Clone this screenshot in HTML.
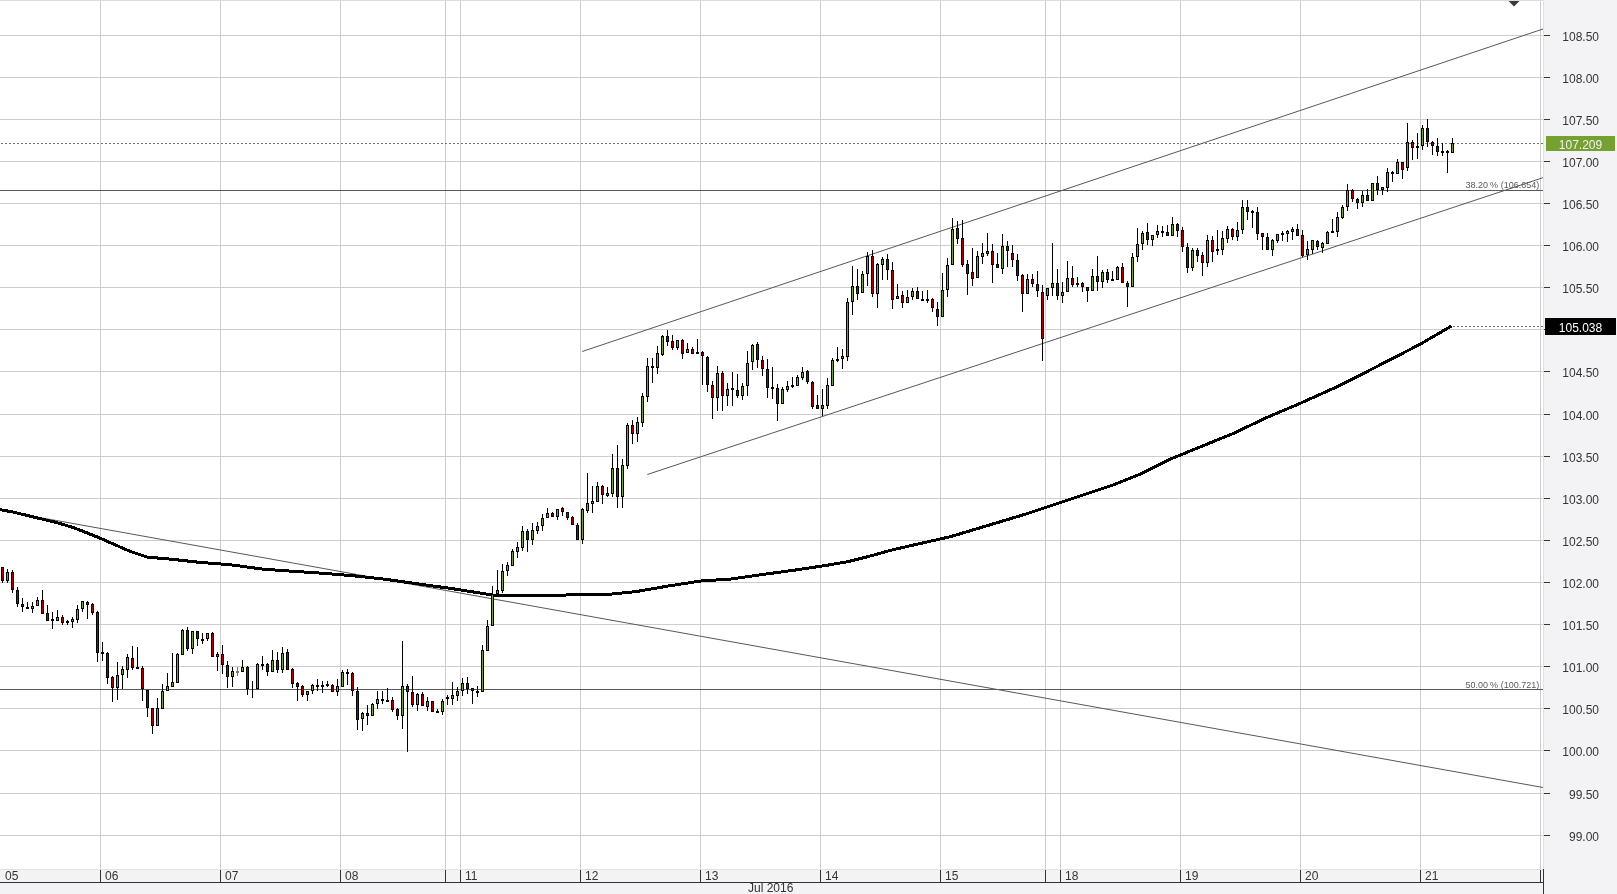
<!DOCTYPE html><html><head><meta charset="utf-8"><style>
html,body{margin:0;padding:0;background:#f3f3f5;width:1617px;height:894px;overflow:hidden}
svg{display:block;position:absolute;left:0;top:0;will-change:transform}
text{font-family:"Liberation Sans",sans-serif}
</style></head><body>
<svg width="1617" height="894" viewBox="0 0 1617 894">
<rect x="0" y="0" width="1617" height="894" fill="#f3f3f5"/>
<rect x="0" y="0" width="1543" height="869" fill="#ffffff"/>
<g shape-rendering="crispEdges">
<rect x="0" y="0" width="1543" height="1" fill="#dddddd"/>
<rect x="0" y="35" width="1543" height="1" fill="#cdcdcd"/>
<rect x="0" y="77" width="1543" height="1" fill="#cdcdcd"/>
<rect x="0" y="119" width="1543" height="1" fill="#cdcdcd"/>
<rect x="0" y="161" width="1543" height="1" fill="#cdcdcd"/>
<rect x="0" y="203" width="1543" height="1" fill="#cdcdcd"/>
<rect x="0" y="245" width="1543" height="1" fill="#cdcdcd"/>
<rect x="0" y="287" width="1543" height="1" fill="#cdcdcd"/>
<rect x="0" y="329" width="1543" height="1" fill="#cdcdcd"/>
<rect x="0" y="371" width="1543" height="1" fill="#cdcdcd"/>
<rect x="0" y="414" width="1543" height="1" fill="#cdcdcd"/>
<rect x="0" y="456" width="1543" height="1" fill="#cdcdcd"/>
<rect x="0" y="498" width="1543" height="1" fill="#cdcdcd"/>
<rect x="0" y="540" width="1543" height="1" fill="#cdcdcd"/>
<rect x="0" y="582" width="1543" height="1" fill="#cdcdcd"/>
<rect x="0" y="624" width="1543" height="1" fill="#cdcdcd"/>
<rect x="0" y="666" width="1543" height="1" fill="#cdcdcd"/>
<rect x="0" y="708" width="1543" height="1" fill="#cdcdcd"/>
<rect x="0" y="750" width="1543" height="1" fill="#cdcdcd"/>
<rect x="0" y="793" width="1543" height="1" fill="#cdcdcd"/>
<rect x="0" y="835" width="1543" height="1" fill="#cdcdcd"/>
<rect x="100" y="1" width="1" height="868" fill="#cdcdcd"/>
<rect x="220" y="1" width="1" height="868" fill="#cdcdcd"/>
<rect x="340" y="1" width="1" height="868" fill="#cdcdcd"/>
<rect x="445" y="1" width="1" height="868" fill="#cdcdcd"/>
<rect x="460" y="1" width="1" height="868" fill="#cdcdcd"/>
<rect x="580" y="1" width="1" height="868" fill="#cdcdcd"/>
<rect x="700" y="1" width="1" height="868" fill="#cdcdcd"/>
<rect x="820" y="1" width="1" height="868" fill="#cdcdcd"/>
<rect x="940" y="1" width="1" height="868" fill="#cdcdcd"/>
<rect x="1045" y="1" width="1" height="868" fill="#cdcdcd"/>
<rect x="1060" y="1" width="1" height="868" fill="#cdcdcd"/>
<rect x="1180" y="1" width="1" height="868" fill="#cdcdcd"/>
<rect x="1300" y="1" width="1" height="868" fill="#cdcdcd"/>
<rect x="1420" y="1" width="1" height="868" fill="#cdcdcd"/>
<rect x="1540" y="1" width="1" height="868" fill="#cdcdcd"/>
<rect x="1543" y="0" width="1" height="869" fill="#e2e2e2"/>
<rect x="0" y="869" width="1543" height="1" fill="#e2e2e2"/>
<rect x="0" y="870" width="1543" height="12" fill="#f3f3f5"/>
<rect x="0" y="882" width="1544" height="1" fill="#333333"/>
<rect x="1543" y="869" width="1" height="25" fill="#333333"/>
<rect x="100" y="870" width="1" height="12" fill="#333333"/>
<rect x="220" y="870" width="1" height="12" fill="#333333"/>
<rect x="340" y="870" width="1" height="12" fill="#333333"/>
<rect x="445" y="870" width="1" height="12" fill="#333333"/>
<rect x="460" y="870" width="1" height="12" fill="#333333"/>
<rect x="580" y="870" width="1" height="12" fill="#333333"/>
<rect x="700" y="870" width="1" height="12" fill="#333333"/>
<rect x="820" y="870" width="1" height="12" fill="#333333"/>
<rect x="940" y="870" width="1" height="12" fill="#333333"/>
<rect x="1045" y="870" width="1" height="12" fill="#333333"/>
<rect x="1060" y="870" width="1" height="12" fill="#333333"/>
<rect x="1180" y="870" width="1" height="12" fill="#333333"/>
<rect x="1300" y="870" width="1" height="12" fill="#333333"/>
<rect x="1420" y="870" width="1" height="12" fill="#333333"/>
<rect x="1540" y="870" width="1" height="12" fill="#333333"/>
<rect x="1544" y="35" width="6" height="1" fill="#333333"/>
<rect x="1544" y="77" width="6" height="1" fill="#333333"/>
<rect x="1544" y="119" width="6" height="1" fill="#333333"/>
<rect x="1544" y="161" width="6" height="1" fill="#333333"/>
<rect x="1544" y="203" width="6" height="1" fill="#333333"/>
<rect x="1544" y="245" width="6" height="1" fill="#333333"/>
<rect x="1544" y="287" width="6" height="1" fill="#333333"/>
<rect x="1544" y="329" width="6" height="1" fill="#333333"/>
<rect x="1544" y="371" width="6" height="1" fill="#333333"/>
<rect x="1544" y="414" width="6" height="1" fill="#333333"/>
<rect x="1544" y="456" width="6" height="1" fill="#333333"/>
<rect x="1544" y="498" width="6" height="1" fill="#333333"/>
<rect x="1544" y="540" width="6" height="1" fill="#333333"/>
<rect x="1544" y="582" width="6" height="1" fill="#333333"/>
<rect x="1544" y="624" width="6" height="1" fill="#333333"/>
<rect x="1544" y="666" width="6" height="1" fill="#333333"/>
<rect x="1544" y="708" width="6" height="1" fill="#333333"/>
<rect x="1544" y="750" width="6" height="1" fill="#333333"/>
<rect x="1544" y="793" width="6" height="1" fill="#333333"/>
<rect x="1544" y="835" width="6" height="1" fill="#333333"/>
</g>
<g font-size="12" fill="#333333">
<text x="1599" y="41" text-anchor="end">108.50</text>
<text x="1599" y="83" text-anchor="end">108.00</text>
<text x="1599" y="125" text-anchor="end">107.50</text>
<text x="1599" y="167" text-anchor="end">107.00</text>
<text x="1599" y="209" text-anchor="end">106.50</text>
<text x="1599" y="251" text-anchor="end">106.00</text>
<text x="1599" y="293" text-anchor="end">105.50</text>
<text x="1599" y="335" text-anchor="end">105.00</text>
<text x="1599" y="377" text-anchor="end">104.50</text>
<text x="1599" y="420" text-anchor="end">104.00</text>
<text x="1599" y="462" text-anchor="end">103.50</text>
<text x="1599" y="504" text-anchor="end">103.00</text>
<text x="1599" y="546" text-anchor="end">102.50</text>
<text x="1599" y="588" text-anchor="end">102.00</text>
<text x="1599" y="630" text-anchor="end">101.50</text>
<text x="1599" y="672" text-anchor="end">101.00</text>
<text x="1599" y="714" text-anchor="end">100.50</text>
<text x="1599" y="756" text-anchor="end">100.00</text>
<text x="1599" y="799" text-anchor="end">99.50</text>
<text x="1599" y="841" text-anchor="end">99.00</text>
</g>
<g font-size="12" fill="#333333">
<text x="5" y="880">05</text>
<text x="105" y="880">06</text>
<text x="225" y="880">07</text>
<text x="345" y="880">08</text>
<text x="465" y="880">11</text>
<text x="585" y="880">12</text>
<text x="705" y="880">13</text>
<text x="825" y="880">14</text>
<text x="945" y="880">15</text>
<text x="1065" y="880">18</text>
<text x="1185" y="880">19</text>
<text x="1305" y="880">20</text>
<text x="1425" y="880">21</text>
<text x="748" y="892">Jul 2016</text>
</g>
<g shape-rendering="crispEdges">
<line x1="1" y1="143.5" x2="1543" y2="143.5" stroke="#707070" stroke-width="1" stroke-dasharray="2 2"/>
<line x1="1453" y1="326.5" x2="1543" y2="326.5" stroke="#707070" stroke-width="1" stroke-dasharray="2 2"/>
<rect x="0" y="190" width="1543" height="1" fill="#5a5a5a"/>
<rect x="0" y="689" width="1543" height="1" fill="#5a5a5a"/>
</g>
<g font-size="9" fill="#5a5a5a">
<text x="1465.6" y="188">38.20</text><text x="1490" y="188">%</text><text x="1539.2" y="188" text-anchor="end">(106.654)</text>
<text x="1465.6" y="688">50.00</text><text x="1490" y="688">%</text><text x="1539.2" y="688" text-anchor="end">(100.721)</text>
</g>
<g stroke="#585858" stroke-width="1" fill="none">
<line x1="582.2" y1="351.5" x2="1543" y2="29"/>
<line x1="647.3" y1="474.5" x2="1543" y2="177.7"/>
<line x1="0" y1="510.4" x2="1543" y2="787.5"/>
</g>
<polyline fill="none" shape-rendering="crispEdges" stroke="#000000" stroke-width="3" stroke-linejoin="round" points="0.0,509.6 14.8,512.4 37.1,517.9 55.7,522.3 74.2,527.8 99.0,537.7 129.9,551.3 147.2,557.1 173.2,559.4 200.0,562.4 230.9,564.8 261.8,569.0 292.8,571.3 323.7,573.3 354.6,575.9 385.5,579.3 416.5,583.7 450.0,588.3 480.9,593.2 493.3,595.3 552.0,595.3 612.3,594.0 635.5,591.7 666.5,586.3 700.0,581.1 730.9,579.0 761.8,574.6 792.8,570.4 823.7,565.8 846.9,561.9 870.0,556.1 893.3,549.6 924.2,542.6 950.0,536.8 988.0,525.4 1026.0,514.0 1054.6,504.5 1083.1,495.0 1111.6,485.5 1140.1,474.1 1168.6,459.8 1200.0,447.0 1233.6,433.3 1267.1,417.4 1300.7,403.1 1334.2,388.0 1367.8,371.2 1401.3,354.0 1419.8,344.4 1451.7,325.9"/>
<g shape-rendering="crispEdges">
<rect x="2" y="567" width="1" height="16" fill="#000000"/>
<rect x="1" y="567" width="3" height="14" fill="#000000"/>
<rect x="2" y="568" width="1" height="12" fill="#a80000"/>
<rect x="7" y="569" width="1" height="14" fill="#000000"/>
<rect x="6" y="572" width="3" height="9" fill="#000000"/>
<rect x="7" y="573" width="1" height="7" fill="#78a02a"/>
<rect x="12" y="570" width="1" height="23" fill="#000000"/>
<rect x="11" y="572" width="3" height="18" fill="#000000"/>
<rect x="12" y="573" width="1" height="16" fill="#a80000"/>
<rect x="17" y="587" width="1" height="20" fill="#000000"/>
<rect x="16" y="590" width="3" height="14" fill="#000000"/>
<rect x="17" y="591" width="1" height="12" fill="#a80000"/>
<rect x="22" y="598" width="1" height="14" fill="#000000"/>
<rect x="21" y="604" width="3" height="3" fill="#000000"/>
<rect x="22" y="605" width="1" height="1" fill="#a80000"/>
<rect x="27" y="602" width="1" height="7" fill="#000000"/>
<rect x="26" y="607" width="3" height="2" fill="#000000"/>
<rect x="32" y="602" width="1" height="11" fill="#000000"/>
<rect x="31" y="606" width="3" height="3" fill="#000000"/>
<rect x="32" y="607" width="1" height="1" fill="#78a02a"/>
<rect x="37" y="597" width="1" height="9" fill="#000000"/>
<rect x="36" y="600" width="3" height="6" fill="#000000"/>
<rect x="37" y="601" width="1" height="4" fill="#78a02a"/>
<rect x="42" y="590" width="1" height="24" fill="#000000"/>
<rect x="41" y="600" width="3" height="14" fill="#000000"/>
<rect x="42" y="601" width="1" height="12" fill="#a80000"/>
<rect x="47" y="605" width="1" height="16" fill="#000000"/>
<rect x="46" y="613" width="3" height="8" fill="#000000"/>
<rect x="47" y="614" width="1" height="6" fill="#a80000"/>
<rect x="52" y="612" width="1" height="17" fill="#000000"/>
<rect x="51" y="619" width="3" height="2" fill="#000000"/>
<rect x="57" y="610" width="1" height="11" fill="#000000"/>
<rect x="56" y="617" width="3" height="4" fill="#000000"/>
<rect x="57" y="618" width="1" height="2" fill="#78a02a"/>
<rect x="62" y="615" width="1" height="10" fill="#000000"/>
<rect x="61" y="617" width="3" height="6" fill="#000000"/>
<rect x="62" y="618" width="1" height="4" fill="#a80000"/>
<rect x="67" y="620" width="1" height="5" fill="#000000"/>
<rect x="66" y="621" width="3" height="2" fill="#000000"/>
<rect x="72" y="617" width="1" height="11" fill="#000000"/>
<rect x="71" y="619" width="3" height="3" fill="#000000"/>
<rect x="72" y="620" width="1" height="1" fill="#78a02a"/>
<rect x="77" y="605" width="1" height="18" fill="#000000"/>
<rect x="76" y="609" width="3" height="11" fill="#000000"/>
<rect x="77" y="610" width="1" height="9" fill="#78a02a"/>
<rect x="82" y="601" width="1" height="11" fill="#000000"/>
<rect x="81" y="601" width="3" height="8" fill="#000000"/>
<rect x="82" y="602" width="1" height="6" fill="#78a02a"/>
<rect x="87" y="601" width="1" height="18" fill="#000000"/>
<rect x="86" y="602" width="3" height="3" fill="#000000"/>
<rect x="87" y="603" width="1" height="1" fill="#a80000"/>
<rect x="92" y="603" width="1" height="12" fill="#000000"/>
<rect x="91" y="604" width="3" height="9" fill="#000000"/>
<rect x="92" y="605" width="1" height="7" fill="#a80000"/>
<rect x="97" y="611" width="1" height="51" fill="#000000"/>
<rect x="96" y="612" width="3" height="41" fill="#000000"/>
<rect x="97" y="613" width="1" height="39" fill="#a80000"/>
<rect x="102" y="642" width="1" height="19" fill="#000000"/>
<rect x="101" y="652" width="3" height="2" fill="#000000"/>
<rect x="107" y="652" width="1" height="32" fill="#000000"/>
<rect x="106" y="653" width="3" height="25" fill="#000000"/>
<rect x="107" y="654" width="1" height="23" fill="#a80000"/>
<rect x="112" y="676" width="1" height="26" fill="#000000"/>
<rect x="111" y="677" width="3" height="11" fill="#000000"/>
<rect x="112" y="678" width="1" height="9" fill="#a80000"/>
<rect x="117" y="662" width="1" height="38" fill="#000000"/>
<rect x="116" y="675" width="3" height="13" fill="#000000"/>
<rect x="117" y="676" width="1" height="11" fill="#78a02a"/>
<rect x="122" y="666" width="1" height="23" fill="#000000"/>
<rect x="121" y="669" width="3" height="6" fill="#000000"/>
<rect x="122" y="670" width="1" height="4" fill="#78a02a"/>
<rect x="127" y="654" width="1" height="24" fill="#000000"/>
<rect x="126" y="657" width="3" height="13" fill="#000000"/>
<rect x="127" y="658" width="1" height="11" fill="#78a02a"/>
<rect x="132" y="646" width="1" height="24" fill="#000000"/>
<rect x="131" y="658" width="3" height="10" fill="#000000"/>
<rect x="132" y="659" width="1" height="8" fill="#a80000"/>
<rect x="137" y="647" width="1" height="21" fill="#000000"/>
<rect x="136" y="667" width="3" height="2" fill="#000000"/>
<rect x="142" y="666" width="1" height="35" fill="#000000"/>
<rect x="141" y="668" width="3" height="21" fill="#000000"/>
<rect x="142" y="669" width="1" height="19" fill="#a80000"/>
<rect x="147" y="690" width="1" height="27" fill="#000000"/>
<rect x="146" y="690" width="3" height="18" fill="#000000"/>
<rect x="147" y="691" width="1" height="16" fill="#a80000"/>
<rect x="152" y="708" width="1" height="26" fill="#000000"/>
<rect x="151" y="708" width="3" height="18" fill="#000000"/>
<rect x="152" y="709" width="1" height="16" fill="#a80000"/>
<rect x="157" y="698" width="1" height="28" fill="#000000"/>
<rect x="156" y="708" width="3" height="18" fill="#000000"/>
<rect x="157" y="709" width="1" height="16" fill="#78a02a"/>
<rect x="162" y="684" width="1" height="25" fill="#000000"/>
<rect x="161" y="691" width="3" height="18" fill="#000000"/>
<rect x="162" y="692" width="1" height="16" fill="#78a02a"/>
<rect x="167" y="673" width="1" height="18" fill="#000000"/>
<rect x="166" y="686" width="3" height="5" fill="#000000"/>
<rect x="167" y="687" width="1" height="3" fill="#78a02a"/>
<rect x="172" y="653" width="1" height="34" fill="#000000"/>
<rect x="171" y="682" width="3" height="5" fill="#000000"/>
<rect x="172" y="683" width="1" height="3" fill="#78a02a"/>
<rect x="177" y="653" width="1" height="30" fill="#000000"/>
<rect x="176" y="654" width="3" height="29" fill="#000000"/>
<rect x="177" y="655" width="1" height="27" fill="#78a02a"/>
<rect x="182" y="629" width="1" height="26" fill="#000000"/>
<rect x="181" y="630" width="3" height="25" fill="#000000"/>
<rect x="182" y="631" width="1" height="23" fill="#78a02a"/>
<rect x="187" y="627" width="1" height="24" fill="#000000"/>
<rect x="186" y="630" width="3" height="19" fill="#000000"/>
<rect x="187" y="631" width="1" height="17" fill="#a80000"/>
<rect x="192" y="631" width="1" height="23" fill="#000000"/>
<rect x="191" y="631" width="3" height="18" fill="#000000"/>
<rect x="192" y="632" width="1" height="16" fill="#78a02a"/>
<rect x="197" y="631" width="1" height="15" fill="#000000"/>
<rect x="196" y="631" width="3" height="8" fill="#000000"/>
<rect x="197" y="632" width="1" height="6" fill="#a80000"/>
<rect x="202" y="633" width="1" height="11" fill="#000000"/>
<rect x="201" y="639" width="3" height="2" fill="#000000"/>
<rect x="207" y="633" width="1" height="8" fill="#000000"/>
<rect x="206" y="633" width="3" height="6" fill="#000000"/>
<rect x="207" y="634" width="1" height="4" fill="#78a02a"/>
<rect x="212" y="632" width="1" height="25" fill="#000000"/>
<rect x="211" y="633" width="3" height="24" fill="#000000"/>
<rect x="212" y="634" width="1" height="22" fill="#a80000"/>
<rect x="217" y="652" width="1" height="19" fill="#000000"/>
<rect x="216" y="654" width="3" height="3" fill="#000000"/>
<rect x="217" y="655" width="1" height="1" fill="#78a02a"/>
<rect x="222" y="645" width="1" height="29" fill="#000000"/>
<rect x="221" y="654" width="3" height="11" fill="#000000"/>
<rect x="222" y="655" width="1" height="9" fill="#a80000"/>
<rect x="227" y="661" width="1" height="27" fill="#000000"/>
<rect x="226" y="665" width="3" height="12" fill="#000000"/>
<rect x="227" y="666" width="1" height="10" fill="#a80000"/>
<rect x="232" y="667" width="1" height="20" fill="#000000"/>
<rect x="231" y="671" width="3" height="6" fill="#000000"/>
<rect x="232" y="672" width="1" height="4" fill="#78a02a"/>
<rect x="237" y="667" width="1" height="9" fill="#777777"/>
<rect x="236" y="671" width="3" height="2" fill="#777777"/>
<rect x="242" y="660" width="1" height="12" fill="#000000"/>
<rect x="241" y="667" width="3" height="5" fill="#000000"/>
<rect x="242" y="668" width="1" height="3" fill="#78a02a"/>
<rect x="247" y="666" width="1" height="29" fill="#000000"/>
<rect x="246" y="667" width="3" height="22" fill="#000000"/>
<rect x="247" y="668" width="1" height="20" fill="#a80000"/>
<rect x="252" y="681" width="1" height="17" fill="#000000"/>
<rect x="257" y="663" width="1" height="26" fill="#000000"/>
<rect x="256" y="664" width="3" height="25" fill="#000000"/>
<rect x="257" y="665" width="1" height="23" fill="#78a02a"/>
<rect x="262" y="656" width="1" height="14" fill="#000000"/>
<rect x="261" y="664" width="3" height="2" fill="#000000"/>
<rect x="267" y="663" width="1" height="13" fill="#000000"/>
<rect x="266" y="664" width="3" height="8" fill="#000000"/>
<rect x="267" y="665" width="1" height="6" fill="#a80000"/>
<rect x="272" y="650" width="1" height="22" fill="#000000"/>
<rect x="271" y="660" width="3" height="12" fill="#000000"/>
<rect x="272" y="661" width="1" height="10" fill="#78a02a"/>
<rect x="277" y="652" width="1" height="21" fill="#000000"/>
<rect x="276" y="660" width="3" height="10" fill="#000000"/>
<rect x="277" y="661" width="1" height="8" fill="#a80000"/>
<rect x="282" y="647" width="1" height="26" fill="#000000"/>
<rect x="281" y="653" width="3" height="17" fill="#000000"/>
<rect x="282" y="654" width="1" height="15" fill="#78a02a"/>
<rect x="287" y="649" width="1" height="21" fill="#000000"/>
<rect x="286" y="652" width="3" height="18" fill="#000000"/>
<rect x="287" y="653" width="1" height="16" fill="#a80000"/>
<rect x="292" y="668" width="1" height="20" fill="#000000"/>
<rect x="291" y="669" width="3" height="15" fill="#000000"/>
<rect x="292" y="670" width="1" height="13" fill="#a80000"/>
<rect x="297" y="682" width="1" height="19" fill="#000000"/>
<rect x="296" y="683" width="3" height="4" fill="#000000"/>
<rect x="297" y="684" width="1" height="2" fill="#a80000"/>
<rect x="302" y="685" width="1" height="12" fill="#000000"/>
<rect x="301" y="686" width="3" height="9" fill="#000000"/>
<rect x="302" y="687" width="1" height="7" fill="#a80000"/>
<rect x="307" y="691" width="1" height="10" fill="#000000"/>
<rect x="306" y="691" width="3" height="4" fill="#000000"/>
<rect x="307" y="692" width="1" height="2" fill="#78a02a"/>
<rect x="312" y="684" width="1" height="10" fill="#000000"/>
<rect x="311" y="685" width="3" height="6" fill="#000000"/>
<rect x="312" y="686" width="1" height="4" fill="#78a02a"/>
<rect x="317" y="679" width="1" height="12" fill="#000000"/>
<rect x="316" y="685" width="3" height="2" fill="#000000"/>
<rect x="322" y="681" width="1" height="12" fill="#000000"/>
<rect x="321" y="685" width="3" height="2" fill="#000000"/>
<rect x="327" y="681" width="1" height="6" fill="#000000"/>
<rect x="326" y="684" width="3" height="2" fill="#000000"/>
<rect x="332" y="684" width="1" height="8" fill="#000000"/>
<rect x="331" y="685" width="3" height="7" fill="#000000"/>
<rect x="332" y="686" width="1" height="5" fill="#a80000"/>
<rect x="337" y="679" width="1" height="17" fill="#000000"/>
<rect x="336" y="686" width="3" height="6" fill="#000000"/>
<rect x="337" y="687" width="1" height="4" fill="#78a02a"/>
<rect x="342" y="670" width="1" height="17" fill="#000000"/>
<rect x="341" y="672" width="3" height="15" fill="#000000"/>
<rect x="342" y="673" width="1" height="13" fill="#78a02a"/>
<rect x="347" y="669" width="1" height="16" fill="#000000"/>
<rect x="346" y="672" width="3" height="2" fill="#000000"/>
<rect x="352" y="672" width="1" height="24" fill="#000000"/>
<rect x="351" y="673" width="3" height="18" fill="#000000"/>
<rect x="352" y="674" width="1" height="16" fill="#a80000"/>
<rect x="357" y="687" width="1" height="43" fill="#000000"/>
<rect x="356" y="691" width="3" height="29" fill="#000000"/>
<rect x="357" y="692" width="1" height="27" fill="#a80000"/>
<rect x="362" y="712" width="1" height="19" fill="#000000"/>
<rect x="361" y="713" width="3" height="6" fill="#000000"/>
<rect x="362" y="714" width="1" height="4" fill="#78a02a"/>
<rect x="367" y="705" width="1" height="20" fill="#000000"/>
<rect x="366" y="713" width="3" height="3" fill="#000000"/>
<rect x="367" y="714" width="1" height="1" fill="#a80000"/>
<rect x="372" y="703" width="1" height="13" fill="#000000"/>
<rect x="371" y="704" width="3" height="12" fill="#000000"/>
<rect x="372" y="705" width="1" height="10" fill="#78a02a"/>
<rect x="377" y="691" width="1" height="18" fill="#000000"/>
<rect x="376" y="699" width="3" height="5" fill="#000000"/>
<rect x="377" y="700" width="1" height="3" fill="#78a02a"/>
<rect x="382" y="691" width="1" height="13" fill="#000000"/>
<rect x="381" y="699" width="3" height="2" fill="#000000"/>
<rect x="387" y="688" width="1" height="13" fill="#000000"/>
<rect x="386" y="700" width="3" height="2" fill="#000000"/>
<rect x="392" y="697" width="1" height="15" fill="#000000"/>
<rect x="391" y="700" width="3" height="10" fill="#000000"/>
<rect x="392" y="701" width="1" height="8" fill="#a80000"/>
<rect x="397" y="708" width="1" height="12" fill="#000000"/>
<rect x="396" y="709" width="3" height="7" fill="#000000"/>
<rect x="397" y="710" width="1" height="5" fill="#a80000"/>
<rect x="402" y="641" width="1" height="88" fill="#000000"/>
<rect x="401" y="686" width="3" height="30" fill="#000000"/>
<rect x="402" y="687" width="1" height="28" fill="#78a02a"/>
<rect x="407" y="684" width="1" height="68" fill="#000000"/>
<rect x="406" y="686" width="3" height="6" fill="#000000"/>
<rect x="407" y="687" width="1" height="4" fill="#a80000"/>
<rect x="412" y="676" width="1" height="31" fill="#000000"/>
<rect x="411" y="692" width="3" height="13" fill="#000000"/>
<rect x="412" y="693" width="1" height="11" fill="#a80000"/>
<rect x="417" y="693" width="1" height="18" fill="#000000"/>
<rect x="416" y="694" width="3" height="11" fill="#000000"/>
<rect x="417" y="695" width="1" height="9" fill="#78a02a"/>
<rect x="422" y="692" width="1" height="14" fill="#000000"/>
<rect x="421" y="694" width="3" height="12" fill="#000000"/>
<rect x="422" y="695" width="1" height="10" fill="#a80000"/>
<rect x="427" y="697" width="1" height="14" fill="#000000"/>
<rect x="426" y="701" width="3" height="6" fill="#000000"/>
<rect x="427" y="702" width="1" height="4" fill="#78a02a"/>
<rect x="432" y="701" width="1" height="11" fill="#000000"/>
<rect x="431" y="701" width="3" height="11" fill="#000000"/>
<rect x="432" y="702" width="1" height="9" fill="#a80000"/>
<rect x="437" y="709" width="1" height="4" fill="#000000"/>
<rect x="436" y="711" width="3" height="2" fill="#000000"/>
<rect x="442" y="699" width="1" height="16" fill="#000000"/>
<rect x="441" y="701" width="3" height="11" fill="#000000"/>
<rect x="442" y="702" width="1" height="9" fill="#78a02a"/>
<rect x="447" y="695" width="1" height="10" fill="#000000"/>
<rect x="446" y="697" width="3" height="2" fill="#000000"/>
<rect x="452" y="682" width="1" height="23" fill="#000000"/>
<rect x="451" y="695" width="3" height="4" fill="#000000"/>
<rect x="452" y="696" width="1" height="2" fill="#78a02a"/>
<rect x="457" y="687" width="1" height="14" fill="#000000"/>
<rect x="456" y="691" width="3" height="5" fill="#000000"/>
<rect x="457" y="692" width="1" height="3" fill="#78a02a"/>
<rect x="462" y="678" width="1" height="18" fill="#000000"/>
<rect x="461" y="683" width="3" height="8" fill="#000000"/>
<rect x="462" y="684" width="1" height="6" fill="#78a02a"/>
<rect x="467" y="677" width="1" height="17" fill="#000000"/>
<rect x="466" y="683" width="3" height="6" fill="#000000"/>
<rect x="467" y="684" width="1" height="4" fill="#a80000"/>
<rect x="472" y="688" width="1" height="16" fill="#000000"/>
<rect x="471" y="688" width="3" height="3" fill="#000000"/>
<rect x="472" y="689" width="1" height="1" fill="#a80000"/>
<rect x="477" y="686" width="1" height="11" fill="#000000"/>
<rect x="476" y="691" width="3" height="2" fill="#000000"/>
<rect x="482" y="645" width="1" height="47" fill="#000000"/>
<rect x="481" y="650" width="3" height="42" fill="#000000"/>
<rect x="482" y="651" width="1" height="40" fill="#78a02a"/>
<rect x="487" y="620" width="1" height="31" fill="#000000"/>
<rect x="486" y="626" width="3" height="25" fill="#000000"/>
<rect x="487" y="627" width="1" height="23" fill="#78a02a"/>
<rect x="492" y="586" width="1" height="40" fill="#000000"/>
<rect x="491" y="594" width="3" height="32" fill="#000000"/>
<rect x="492" y="595" width="1" height="30" fill="#78a02a"/>
<rect x="497" y="570" width="1" height="24" fill="#000000"/>
<rect x="496" y="590" width="3" height="4" fill="#000000"/>
<rect x="497" y="591" width="1" height="2" fill="#78a02a"/>
<rect x="502" y="564" width="1" height="29" fill="#000000"/>
<rect x="501" y="571" width="3" height="20" fill="#000000"/>
<rect x="502" y="572" width="1" height="18" fill="#78a02a"/>
<rect x="507" y="562" width="1" height="14" fill="#000000"/>
<rect x="506" y="565" width="3" height="6" fill="#000000"/>
<rect x="507" y="566" width="1" height="4" fill="#78a02a"/>
<rect x="512" y="549" width="1" height="17" fill="#000000"/>
<rect x="511" y="551" width="3" height="15" fill="#000000"/>
<rect x="512" y="552" width="1" height="13" fill="#78a02a"/>
<rect x="517" y="542" width="1" height="16" fill="#000000"/>
<rect x="516" y="547" width="3" height="5" fill="#000000"/>
<rect x="517" y="548" width="1" height="3" fill="#78a02a"/>
<rect x="522" y="526" width="1" height="25" fill="#000000"/>
<rect x="521" y="531" width="3" height="17" fill="#000000"/>
<rect x="522" y="532" width="1" height="15" fill="#78a02a"/>
<rect x="527" y="529" width="1" height="23" fill="#000000"/>
<rect x="526" y="531" width="3" height="9" fill="#000000"/>
<rect x="527" y="532" width="1" height="7" fill="#a80000"/>
<rect x="532" y="523" width="1" height="22" fill="#000000"/>
<rect x="531" y="530" width="3" height="10" fill="#000000"/>
<rect x="532" y="531" width="1" height="8" fill="#78a02a"/>
<rect x="537" y="522" width="1" height="12" fill="#000000"/>
<rect x="536" y="526" width="3" height="5" fill="#000000"/>
<rect x="537" y="527" width="1" height="3" fill="#78a02a"/>
<rect x="542" y="514" width="1" height="17" fill="#000000"/>
<rect x="541" y="518" width="3" height="8" fill="#000000"/>
<rect x="542" y="519" width="1" height="6" fill="#78a02a"/>
<rect x="547" y="508" width="1" height="10" fill="#000000"/>
<rect x="546" y="513" width="3" height="5" fill="#000000"/>
<rect x="547" y="514" width="1" height="3" fill="#78a02a"/>
<rect x="552" y="512" width="1" height="5" fill="#000000"/>
<rect x="551" y="513" width="3" height="4" fill="#000000"/>
<rect x="552" y="514" width="1" height="2" fill="#a80000"/>
<rect x="557" y="509" width="1" height="11" fill="#000000"/>
<rect x="556" y="509" width="3" height="8" fill="#000000"/>
<rect x="557" y="510" width="1" height="6" fill="#78a02a"/>
<rect x="562" y="507" width="1" height="9" fill="#000000"/>
<rect x="561" y="508" width="3" height="4" fill="#000000"/>
<rect x="562" y="509" width="1" height="2" fill="#a80000"/>
<rect x="567" y="512" width="1" height="8" fill="#000000"/>
<rect x="566" y="512" width="3" height="6" fill="#000000"/>
<rect x="567" y="513" width="1" height="4" fill="#a80000"/>
<rect x="572" y="516" width="1" height="9" fill="#000000"/>
<rect x="571" y="517" width="3" height="8" fill="#000000"/>
<rect x="572" y="518" width="1" height="6" fill="#a80000"/>
<rect x="577" y="523" width="1" height="17" fill="#000000"/>
<rect x="576" y="525" width="3" height="15" fill="#000000"/>
<rect x="577" y="526" width="1" height="13" fill="#a80000"/>
<rect x="582" y="508" width="1" height="36" fill="#000000"/>
<rect x="581" y="509" width="3" height="31" fill="#000000"/>
<rect x="582" y="510" width="1" height="29" fill="#78a02a"/>
<rect x="587" y="473" width="1" height="40" fill="#000000"/>
<rect x="586" y="503" width="3" height="8" fill="#000000"/>
<rect x="587" y="504" width="1" height="6" fill="#78a02a"/>
<rect x="592" y="486" width="1" height="27" fill="#000000"/>
<rect x="591" y="501" width="3" height="3" fill="#000000"/>
<rect x="592" y="502" width="1" height="1" fill="#78a02a"/>
<rect x="597" y="482" width="1" height="20" fill="#000000"/>
<rect x="596" y="486" width="3" height="16" fill="#000000"/>
<rect x="597" y="487" width="1" height="14" fill="#78a02a"/>
<rect x="602" y="485" width="1" height="19" fill="#000000"/>
<rect x="601" y="486" width="3" height="9" fill="#000000"/>
<rect x="602" y="487" width="1" height="7" fill="#a80000"/>
<rect x="607" y="487" width="1" height="10" fill="#000000"/>
<rect x="606" y="493" width="3" height="3" fill="#000000"/>
<rect x="607" y="494" width="1" height="1" fill="#78a02a"/>
<rect x="612" y="454" width="1" height="43" fill="#000000"/>
<rect x="611" y="468" width="3" height="26" fill="#000000"/>
<rect x="612" y="469" width="1" height="24" fill="#78a02a"/>
<rect x="617" y="445" width="1" height="63" fill="#000000"/>
<rect x="616" y="468" width="3" height="29" fill="#000000"/>
<rect x="617" y="469" width="1" height="27" fill="#a80000"/>
<rect x="622" y="459" width="1" height="49" fill="#000000"/>
<rect x="621" y="465" width="3" height="32" fill="#000000"/>
<rect x="622" y="466" width="1" height="30" fill="#78a02a"/>
<rect x="627" y="423" width="1" height="46" fill="#000000"/>
<rect x="626" y="425" width="3" height="41" fill="#000000"/>
<rect x="627" y="426" width="1" height="39" fill="#78a02a"/>
<rect x="632" y="420" width="1" height="24" fill="#000000"/>
<rect x="631" y="425" width="3" height="9" fill="#000000"/>
<rect x="632" y="426" width="1" height="7" fill="#a80000"/>
<rect x="637" y="417" width="1" height="25" fill="#000000"/>
<rect x="636" y="422" width="3" height="12" fill="#000000"/>
<rect x="637" y="423" width="1" height="10" fill="#78a02a"/>
<rect x="642" y="393" width="1" height="34" fill="#000000"/>
<rect x="641" y="396" width="3" height="27" fill="#000000"/>
<rect x="642" y="397" width="1" height="25" fill="#78a02a"/>
<rect x="647" y="358" width="1" height="44" fill="#000000"/>
<rect x="646" y="366" width="3" height="31" fill="#000000"/>
<rect x="647" y="367" width="1" height="29" fill="#78a02a"/>
<rect x="652" y="358" width="1" height="25" fill="#000000"/>
<rect x="651" y="366" width="3" height="2" fill="#000000"/>
<rect x="657" y="346" width="1" height="28" fill="#000000"/>
<rect x="656" y="353" width="3" height="15" fill="#000000"/>
<rect x="657" y="354" width="1" height="13" fill="#78a02a"/>
<rect x="662" y="335" width="1" height="21" fill="#000000"/>
<rect x="661" y="336" width="3" height="19" fill="#000000"/>
<rect x="662" y="337" width="1" height="17" fill="#78a02a"/>
<rect x="667" y="330" width="1" height="16" fill="#000000"/>
<rect x="666" y="336" width="3" height="6" fill="#000000"/>
<rect x="667" y="337" width="1" height="4" fill="#a80000"/>
<rect x="672" y="335" width="1" height="15" fill="#000000"/>
<rect x="671" y="341" width="3" height="7" fill="#000000"/>
<rect x="672" y="342" width="1" height="5" fill="#a80000"/>
<rect x="677" y="340" width="1" height="10" fill="#000000"/>
<rect x="676" y="340" width="3" height="8" fill="#000000"/>
<rect x="677" y="341" width="1" height="6" fill="#78a02a"/>
<rect x="682" y="339" width="1" height="20" fill="#000000"/>
<rect x="681" y="340" width="3" height="14" fill="#000000"/>
<rect x="682" y="341" width="1" height="12" fill="#a80000"/>
<rect x="687" y="343" width="1" height="10" fill="#000000"/>
<rect x="686" y="349" width="3" height="4" fill="#000000"/>
<rect x="687" y="350" width="1" height="2" fill="#78a02a"/>
<rect x="692" y="347" width="1" height="7" fill="#000000"/>
<rect x="691" y="349" width="3" height="5" fill="#000000"/>
<rect x="692" y="350" width="1" height="3" fill="#a80000"/>
<rect x="697" y="339" width="1" height="15" fill="#000000"/>
<rect x="696" y="352" width="3" height="2" fill="#000000"/>
<rect x="702" y="351" width="1" height="34" fill="#000000"/>
<rect x="701" y="352" width="3" height="4" fill="#000000"/>
<rect x="702" y="353" width="1" height="2" fill="#a80000"/>
<rect x="707" y="356" width="1" height="36" fill="#000000"/>
<rect x="706" y="357" width="3" height="28" fill="#000000"/>
<rect x="707" y="358" width="1" height="26" fill="#a80000"/>
<rect x="712" y="381" width="1" height="38" fill="#000000"/>
<rect x="711" y="385" width="3" height="13" fill="#000000"/>
<rect x="712" y="386" width="1" height="11" fill="#a80000"/>
<rect x="717" y="366" width="1" height="45" fill="#000000"/>
<rect x="716" y="373" width="3" height="25" fill="#000000"/>
<rect x="717" y="374" width="1" height="23" fill="#78a02a"/>
<rect x="722" y="371" width="1" height="40" fill="#000000"/>
<rect x="721" y="373" width="3" height="23" fill="#000000"/>
<rect x="722" y="374" width="1" height="21" fill="#a80000"/>
<rect x="727" y="383" width="1" height="23" fill="#000000"/>
<rect x="726" y="389" width="3" height="7" fill="#000000"/>
<rect x="727" y="390" width="1" height="5" fill="#78a02a"/>
<rect x="732" y="372" width="1" height="34" fill="#000000"/>
<rect x="731" y="388" width="3" height="2" fill="#000000"/>
<rect x="737" y="374" width="1" height="24" fill="#000000"/>
<rect x="736" y="390" width="3" height="6" fill="#000000"/>
<rect x="737" y="391" width="1" height="4" fill="#a80000"/>
<rect x="742" y="383" width="1" height="17" fill="#000000"/>
<rect x="741" y="386" width="3" height="10" fill="#000000"/>
<rect x="742" y="387" width="1" height="8" fill="#78a02a"/>
<rect x="747" y="351" width="1" height="45" fill="#000000"/>
<rect x="746" y="363" width="3" height="23" fill="#000000"/>
<rect x="747" y="364" width="1" height="21" fill="#78a02a"/>
<rect x="752" y="344" width="1" height="26" fill="#000000"/>
<rect x="751" y="345" width="3" height="17" fill="#000000"/>
<rect x="752" y="346" width="1" height="15" fill="#78a02a"/>
<rect x="757" y="342" width="1" height="26" fill="#000000"/>
<rect x="756" y="344" width="3" height="16" fill="#000000"/>
<rect x="757" y="345" width="1" height="14" fill="#a80000"/>
<rect x="762" y="356" width="1" height="20" fill="#000000"/>
<rect x="761" y="360" width="3" height="9" fill="#000000"/>
<rect x="762" y="361" width="1" height="7" fill="#a80000"/>
<rect x="767" y="359" width="1" height="39" fill="#000000"/>
<rect x="766" y="369" width="3" height="19" fill="#000000"/>
<rect x="767" y="370" width="1" height="17" fill="#a80000"/>
<rect x="772" y="367" width="1" height="32" fill="#000000"/>
<rect x="771" y="387" width="3" height="2" fill="#000000"/>
<rect x="777" y="384" width="1" height="37" fill="#000000"/>
<rect x="776" y="388" width="3" height="16" fill="#000000"/>
<rect x="777" y="389" width="1" height="14" fill="#a80000"/>
<rect x="782" y="387" width="1" height="17" fill="#000000"/>
<rect x="781" y="389" width="3" height="15" fill="#000000"/>
<rect x="782" y="390" width="1" height="13" fill="#78a02a"/>
<rect x="787" y="381" width="1" height="11" fill="#000000"/>
<rect x="786" y="386" width="3" height="4" fill="#000000"/>
<rect x="787" y="387" width="1" height="2" fill="#78a02a"/>
<rect x="792" y="377" width="1" height="11" fill="#000000"/>
<rect x="791" y="385" width="3" height="2" fill="#000000"/>
<rect x="797" y="375" width="1" height="11" fill="#000000"/>
<rect x="796" y="377" width="3" height="9" fill="#000000"/>
<rect x="797" y="378" width="1" height="7" fill="#78a02a"/>
<rect x="802" y="367" width="1" height="13" fill="#000000"/>
<rect x="801" y="372" width="3" height="6" fill="#000000"/>
<rect x="802" y="373" width="1" height="4" fill="#78a02a"/>
<rect x="807" y="370" width="1" height="14" fill="#000000"/>
<rect x="806" y="371" width="3" height="11" fill="#000000"/>
<rect x="807" y="372" width="1" height="9" fill="#a80000"/>
<rect x="812" y="381" width="1" height="28" fill="#000000"/>
<rect x="811" y="382" width="3" height="25" fill="#000000"/>
<rect x="812" y="383" width="1" height="23" fill="#a80000"/>
<rect x="817" y="395" width="1" height="14" fill="#000000"/>
<rect x="816" y="405" width="3" height="4" fill="#000000"/>
<rect x="817" y="406" width="1" height="2" fill="#a80000"/>
<rect x="822" y="389" width="1" height="27" fill="#000000"/>
<rect x="821" y="405" width="3" height="4" fill="#000000"/>
<rect x="822" y="406" width="1" height="2" fill="#78a02a"/>
<rect x="827" y="378" width="1" height="31" fill="#000000"/>
<rect x="826" y="385" width="3" height="21" fill="#000000"/>
<rect x="827" y="386" width="1" height="19" fill="#78a02a"/>
<rect x="832" y="358" width="1" height="28" fill="#000000"/>
<rect x="831" y="360" width="3" height="26" fill="#000000"/>
<rect x="832" y="361" width="1" height="24" fill="#78a02a"/>
<rect x="837" y="347" width="1" height="15" fill="#000000"/>
<rect x="836" y="359" width="3" height="2" fill="#000000"/>
<rect x="842" y="349" width="1" height="20" fill="#000000"/>
<rect x="841" y="356" width="3" height="3" fill="#000000"/>
<rect x="842" y="357" width="1" height="1" fill="#78a02a"/>
<rect x="847" y="298" width="1" height="63" fill="#000000"/>
<rect x="846" y="302" width="3" height="55" fill="#000000"/>
<rect x="847" y="303" width="1" height="53" fill="#78a02a"/>
<rect x="852" y="266" width="1" height="49" fill="#000000"/>
<rect x="851" y="286" width="3" height="16" fill="#000000"/>
<rect x="852" y="287" width="1" height="14" fill="#78a02a"/>
<rect x="857" y="269" width="1" height="31" fill="#000000"/>
<rect x="856" y="286" width="3" height="8" fill="#000000"/>
<rect x="857" y="287" width="1" height="6" fill="#a80000"/>
<rect x="862" y="271" width="1" height="22" fill="#000000"/>
<rect x="861" y="274" width="3" height="19" fill="#000000"/>
<rect x="862" y="275" width="1" height="17" fill="#78a02a"/>
<rect x="867" y="252" width="1" height="34" fill="#000000"/>
<rect x="866" y="256" width="3" height="18" fill="#000000"/>
<rect x="867" y="257" width="1" height="16" fill="#78a02a"/>
<rect x="872" y="250" width="1" height="47" fill="#000000"/>
<rect x="871" y="256" width="3" height="38" fill="#000000"/>
<rect x="872" y="257" width="1" height="36" fill="#a80000"/>
<rect x="877" y="263" width="1" height="45" fill="#000000"/>
<rect x="876" y="264" width="3" height="30" fill="#000000"/>
<rect x="877" y="265" width="1" height="28" fill="#78a02a"/>
<rect x="882" y="257" width="1" height="23" fill="#000000"/>
<rect x="881" y="259" width="3" height="6" fill="#000000"/>
<rect x="882" y="260" width="1" height="4" fill="#78a02a"/>
<rect x="887" y="254" width="1" height="26" fill="#000000"/>
<rect x="886" y="259" width="3" height="11" fill="#000000"/>
<rect x="887" y="260" width="1" height="9" fill="#a80000"/>
<rect x="892" y="262" width="1" height="47" fill="#000000"/>
<rect x="891" y="270" width="3" height="30" fill="#000000"/>
<rect x="892" y="271" width="1" height="28" fill="#a80000"/>
<rect x="897" y="284" width="1" height="15" fill="#000000"/>
<rect x="896" y="296" width="3" height="3" fill="#000000"/>
<rect x="897" y="297" width="1" height="1" fill="#78a02a"/>
<rect x="902" y="291" width="1" height="17" fill="#000000"/>
<rect x="901" y="295" width="3" height="8" fill="#000000"/>
<rect x="902" y="296" width="1" height="6" fill="#a80000"/>
<rect x="907" y="290" width="1" height="13" fill="#000000"/>
<rect x="906" y="297" width="3" height="6" fill="#000000"/>
<rect x="907" y="298" width="1" height="4" fill="#78a02a"/>
<rect x="912" y="288" width="1" height="12" fill="#000000"/>
<rect x="911" y="291" width="3" height="6" fill="#000000"/>
<rect x="912" y="292" width="1" height="4" fill="#78a02a"/>
<rect x="917" y="287" width="1" height="12" fill="#000000"/>
<rect x="916" y="291" width="3" height="8" fill="#000000"/>
<rect x="917" y="292" width="1" height="6" fill="#a80000"/>
<rect x="922" y="291" width="1" height="10" fill="#000000"/>
<rect x="921" y="299" width="3" height="2" fill="#000000"/>
<rect x="927" y="290" width="1" height="13" fill="#000000"/>
<rect x="926" y="299" width="3" height="2" fill="#000000"/>
<rect x="932" y="298" width="1" height="14" fill="#000000"/>
<rect x="931" y="299" width="3" height="9" fill="#000000"/>
<rect x="932" y="300" width="1" height="7" fill="#a80000"/>
<rect x="937" y="302" width="1" height="24" fill="#000000"/>
<rect x="936" y="309" width="3" height="8" fill="#000000"/>
<rect x="937" y="310" width="1" height="6" fill="#a80000"/>
<rect x="942" y="273" width="1" height="44" fill="#000000"/>
<rect x="941" y="290" width="3" height="27" fill="#000000"/>
<rect x="942" y="291" width="1" height="25" fill="#78a02a"/>
<rect x="947" y="258" width="1" height="39" fill="#000000"/>
<rect x="946" y="265" width="3" height="25" fill="#000000"/>
<rect x="947" y="266" width="1" height="23" fill="#78a02a"/>
<rect x="952" y="218" width="1" height="47" fill="#000000"/>
<rect x="951" y="229" width="3" height="36" fill="#000000"/>
<rect x="952" y="230" width="1" height="34" fill="#78a02a"/>
<rect x="957" y="221" width="1" height="23" fill="#000000"/>
<rect x="956" y="228" width="3" height="11" fill="#000000"/>
<rect x="957" y="229" width="1" height="9" fill="#a80000"/>
<rect x="962" y="220" width="1" height="47" fill="#000000"/>
<rect x="961" y="238" width="3" height="27" fill="#000000"/>
<rect x="962" y="239" width="1" height="25" fill="#a80000"/>
<rect x="967" y="260" width="1" height="35" fill="#000000"/>
<rect x="966" y="264" width="3" height="10" fill="#000000"/>
<rect x="967" y="265" width="1" height="8" fill="#a80000"/>
<rect x="972" y="248" width="1" height="38" fill="#000000"/>
<rect x="971" y="272" width="3" height="7" fill="#000000"/>
<rect x="972" y="273" width="1" height="5" fill="#a80000"/>
<rect x="977" y="251" width="1" height="27" fill="#000000"/>
<rect x="976" y="256" width="3" height="22" fill="#000000"/>
<rect x="977" y="257" width="1" height="20" fill="#78a02a"/>
<rect x="982" y="243" width="1" height="21" fill="#000000"/>
<rect x="981" y="253" width="3" height="4" fill="#000000"/>
<rect x="982" y="254" width="1" height="2" fill="#78a02a"/>
<rect x="987" y="233" width="1" height="23" fill="#000000"/>
<rect x="986" y="251" width="3" height="3" fill="#000000"/>
<rect x="987" y="252" width="1" height="1" fill="#78a02a"/>
<rect x="992" y="244" width="1" height="39" fill="#000000"/>
<rect x="991" y="251" width="3" height="14" fill="#000000"/>
<rect x="992" y="252" width="1" height="12" fill="#a80000"/>
<rect x="997" y="253" width="1" height="15" fill="#000000"/>
<rect x="996" y="264" width="3" height="4" fill="#000000"/>
<rect x="997" y="265" width="1" height="2" fill="#a80000"/>
<rect x="1002" y="234" width="1" height="40" fill="#000000"/>
<rect x="1001" y="246" width="3" height="23" fill="#000000"/>
<rect x="1002" y="247" width="1" height="21" fill="#78a02a"/>
<rect x="1007" y="241" width="1" height="26" fill="#000000"/>
<rect x="1006" y="246" width="3" height="5" fill="#000000"/>
<rect x="1007" y="247" width="1" height="3" fill="#a80000"/>
<rect x="1012" y="245" width="1" height="22" fill="#000000"/>
<rect x="1011" y="253" width="3" height="7" fill="#000000"/>
<rect x="1012" y="254" width="1" height="5" fill="#a80000"/>
<rect x="1017" y="254" width="1" height="27" fill="#000000"/>
<rect x="1016" y="260" width="3" height="16" fill="#000000"/>
<rect x="1017" y="261" width="1" height="14" fill="#a80000"/>
<rect x="1022" y="274" width="1" height="38" fill="#000000"/>
<rect x="1021" y="275" width="3" height="19" fill="#000000"/>
<rect x="1022" y="276" width="1" height="17" fill="#a80000"/>
<rect x="1027" y="274" width="1" height="20" fill="#000000"/>
<rect x="1026" y="279" width="3" height="15" fill="#000000"/>
<rect x="1027" y="280" width="1" height="13" fill="#78a02a"/>
<rect x="1032" y="274" width="1" height="13" fill="#000000"/>
<rect x="1031" y="279" width="3" height="5" fill="#000000"/>
<rect x="1032" y="280" width="1" height="3" fill="#a80000"/>
<rect x="1037" y="271" width="1" height="26" fill="#000000"/>
<rect x="1036" y="284" width="3" height="7" fill="#000000"/>
<rect x="1037" y="285" width="1" height="5" fill="#a80000"/>
<rect x="1042" y="285" width="1" height="76" fill="#000000"/>
<rect x="1041" y="292" width="3" height="47" fill="#000000"/>
<rect x="1042" y="293" width="1" height="45" fill="#a80000"/>
<rect x="1047" y="288" width="1" height="12" fill="#000000"/>
<rect x="1046" y="288" width="3" height="8" fill="#000000"/>
<rect x="1047" y="289" width="1" height="6" fill="#78a02a"/>
<rect x="1052" y="243" width="1" height="53" fill="#000000"/>
<rect x="1051" y="283" width="3" height="5" fill="#000000"/>
<rect x="1052" y="284" width="1" height="3" fill="#78a02a"/>
<rect x="1057" y="269" width="1" height="31" fill="#000000"/>
<rect x="1056" y="283" width="3" height="13" fill="#000000"/>
<rect x="1057" y="284" width="1" height="11" fill="#a80000"/>
<rect x="1062" y="282" width="1" height="21" fill="#000000"/>
<rect x="1061" y="292" width="3" height="4" fill="#000000"/>
<rect x="1062" y="293" width="1" height="2" fill="#78a02a"/>
<rect x="1067" y="261" width="1" height="31" fill="#000000"/>
<rect x="1066" y="278" width="3" height="14" fill="#000000"/>
<rect x="1067" y="279" width="1" height="12" fill="#78a02a"/>
<rect x="1072" y="266" width="1" height="21" fill="#000000"/>
<rect x="1071" y="278" width="3" height="7" fill="#000000"/>
<rect x="1072" y="279" width="1" height="5" fill="#a80000"/>
<rect x="1077" y="277" width="1" height="10" fill="#000000"/>
<rect x="1076" y="283" width="3" height="2" fill="#000000"/>
<rect x="1082" y="282" width="1" height="10" fill="#000000"/>
<rect x="1081" y="283" width="3" height="4" fill="#000000"/>
<rect x="1082" y="284" width="1" height="2" fill="#a80000"/>
<rect x="1087" y="287" width="1" height="15" fill="#000000"/>
<rect x="1086" y="287" width="3" height="4" fill="#000000"/>
<rect x="1087" y="288" width="1" height="2" fill="#a80000"/>
<rect x="1092" y="269" width="1" height="22" fill="#000000"/>
<rect x="1091" y="276" width="3" height="15" fill="#000000"/>
<rect x="1092" y="277" width="1" height="13" fill="#78a02a"/>
<rect x="1097" y="256" width="1" height="35" fill="#000000"/>
<rect x="1096" y="276" width="3" height="6" fill="#000000"/>
<rect x="1097" y="277" width="1" height="4" fill="#a80000"/>
<rect x="1102" y="270" width="1" height="18" fill="#000000"/>
<rect x="1101" y="272" width="3" height="10" fill="#000000"/>
<rect x="1102" y="273" width="1" height="8" fill="#78a02a"/>
<rect x="1107" y="269" width="1" height="14" fill="#000000"/>
<rect x="1106" y="272" width="3" height="8" fill="#000000"/>
<rect x="1107" y="273" width="1" height="6" fill="#a80000"/>
<rect x="1112" y="271" width="1" height="9" fill="#000000"/>
<rect x="1111" y="279" width="3" height="2" fill="#000000"/>
<rect x="1117" y="266" width="1" height="14" fill="#000000"/>
<rect x="1116" y="267" width="3" height="13" fill="#000000"/>
<rect x="1117" y="268" width="1" height="11" fill="#78a02a"/>
<rect x="1122" y="263" width="1" height="20" fill="#000000"/>
<rect x="1121" y="267" width="3" height="16" fill="#000000"/>
<rect x="1122" y="268" width="1" height="14" fill="#a80000"/>
<rect x="1127" y="281" width="1" height="26" fill="#000000"/>
<rect x="1126" y="283" width="3" height="4" fill="#000000"/>
<rect x="1127" y="284" width="1" height="2" fill="#a80000"/>
<rect x="1132" y="253" width="1" height="34" fill="#000000"/>
<rect x="1131" y="257" width="3" height="30" fill="#000000"/>
<rect x="1132" y="258" width="1" height="28" fill="#78a02a"/>
<rect x="1137" y="228" width="1" height="34" fill="#000000"/>
<rect x="1136" y="244" width="3" height="13" fill="#000000"/>
<rect x="1137" y="245" width="1" height="11" fill="#78a02a"/>
<rect x="1142" y="231" width="1" height="19" fill="#000000"/>
<rect x="1141" y="233" width="3" height="11" fill="#000000"/>
<rect x="1142" y="234" width="1" height="9" fill="#78a02a"/>
<rect x="1147" y="223" width="1" height="22" fill="#000000"/>
<rect x="1146" y="232" width="3" height="8" fill="#000000"/>
<rect x="1147" y="233" width="1" height="6" fill="#a80000"/>
<rect x="1152" y="235" width="1" height="11" fill="#000000"/>
<rect x="1151" y="235" width="3" height="5" fill="#000000"/>
<rect x="1152" y="236" width="1" height="3" fill="#78a02a"/>
<rect x="1157" y="225" width="1" height="13" fill="#000000"/>
<rect x="1156" y="231" width="3" height="4" fill="#000000"/>
<rect x="1157" y="232" width="1" height="2" fill="#78a02a"/>
<rect x="1162" y="226" width="1" height="11" fill="#000000"/>
<rect x="1161" y="231" width="3" height="2" fill="#000000"/>
<rect x="1167" y="225" width="1" height="11" fill="#000000"/>
<rect x="1166" y="232" width="3" height="4" fill="#000000"/>
<rect x="1167" y="233" width="1" height="2" fill="#a80000"/>
<rect x="1172" y="217" width="1" height="19" fill="#000000"/>
<rect x="1171" y="224" width="3" height="12" fill="#000000"/>
<rect x="1172" y="225" width="1" height="10" fill="#78a02a"/>
<rect x="1177" y="223" width="1" height="14" fill="#000000"/>
<rect x="1176" y="224" width="3" height="7" fill="#000000"/>
<rect x="1177" y="225" width="1" height="5" fill="#a80000"/>
<rect x="1182" y="227" width="1" height="25" fill="#000000"/>
<rect x="1181" y="230" width="3" height="17" fill="#000000"/>
<rect x="1182" y="231" width="1" height="15" fill="#a80000"/>
<rect x="1187" y="243" width="1" height="30" fill="#000000"/>
<rect x="1186" y="247" width="3" height="21" fill="#000000"/>
<rect x="1187" y="248" width="1" height="19" fill="#a80000"/>
<rect x="1192" y="248" width="1" height="23" fill="#000000"/>
<rect x="1191" y="250" width="3" height="18" fill="#000000"/>
<rect x="1192" y="251" width="1" height="16" fill="#78a02a"/>
<rect x="1197" y="248" width="1" height="14" fill="#000000"/>
<rect x="1196" y="250" width="3" height="6" fill="#000000"/>
<rect x="1197" y="251" width="1" height="4" fill="#a80000"/>
<rect x="1202" y="252" width="1" height="24" fill="#000000"/>
<rect x="1201" y="255" width="3" height="8" fill="#000000"/>
<rect x="1202" y="256" width="1" height="6" fill="#a80000"/>
<rect x="1207" y="235" width="1" height="32" fill="#000000"/>
<rect x="1206" y="240" width="3" height="23" fill="#000000"/>
<rect x="1207" y="241" width="1" height="21" fill="#78a02a"/>
<rect x="1212" y="236" width="1" height="26" fill="#000000"/>
<rect x="1211" y="240" width="3" height="12" fill="#000000"/>
<rect x="1212" y="241" width="1" height="10" fill="#a80000"/>
<rect x="1217" y="230" width="1" height="25" fill="#000000"/>
<rect x="1216" y="249" width="3" height="2" fill="#000000"/>
<rect x="1222" y="231" width="1" height="24" fill="#000000"/>
<rect x="1221" y="238" width="3" height="12" fill="#000000"/>
<rect x="1222" y="239" width="1" height="10" fill="#78a02a"/>
<rect x="1227" y="226" width="1" height="17" fill="#000000"/>
<rect x="1226" y="229" width="3" height="10" fill="#000000"/>
<rect x="1227" y="230" width="1" height="8" fill="#78a02a"/>
<rect x="1232" y="228" width="1" height="12" fill="#000000"/>
<rect x="1231" y="229" width="3" height="8" fill="#000000"/>
<rect x="1232" y="230" width="1" height="6" fill="#a80000"/>
<rect x="1237" y="222" width="1" height="19" fill="#000000"/>
<rect x="1236" y="230" width="3" height="7" fill="#000000"/>
<rect x="1237" y="231" width="1" height="5" fill="#78a02a"/>
<rect x="1242" y="200" width="1" height="34" fill="#000000"/>
<rect x="1241" y="207" width="3" height="23" fill="#000000"/>
<rect x="1242" y="208" width="1" height="21" fill="#78a02a"/>
<rect x="1247" y="200" width="1" height="20" fill="#000000"/>
<rect x="1246" y="207" width="3" height="5" fill="#000000"/>
<rect x="1247" y="208" width="1" height="3" fill="#a80000"/>
<rect x="1252" y="210" width="1" height="18" fill="#000000"/>
<rect x="1251" y="211" width="3" height="2" fill="#000000"/>
<rect x="1257" y="207" width="1" height="33" fill="#000000"/>
<rect x="1256" y="212" width="3" height="22" fill="#000000"/>
<rect x="1257" y="213" width="1" height="20" fill="#a80000"/>
<rect x="1262" y="233" width="1" height="17" fill="#000000"/>
<rect x="1261" y="233" width="3" height="4" fill="#000000"/>
<rect x="1262" y="234" width="1" height="2" fill="#a80000"/>
<rect x="1267" y="233" width="1" height="17" fill="#000000"/>
<rect x="1266" y="237" width="3" height="13" fill="#000000"/>
<rect x="1267" y="238" width="1" height="11" fill="#a80000"/>
<rect x="1272" y="239" width="1" height="17" fill="#000000"/>
<rect x="1271" y="240" width="3" height="10" fill="#000000"/>
<rect x="1272" y="241" width="1" height="8" fill="#78a02a"/>
<rect x="1277" y="234" width="1" height="9" fill="#000000"/>
<rect x="1276" y="234" width="3" height="7" fill="#000000"/>
<rect x="1277" y="235" width="1" height="5" fill="#78a02a"/>
<rect x="1282" y="231" width="1" height="10" fill="#000000"/>
<rect x="1281" y="233" width="3" height="2" fill="#000000"/>
<rect x="1287" y="230" width="1" height="12" fill="#000000"/>
<rect x="1286" y="231" width="3" height="3" fill="#000000"/>
<rect x="1287" y="232" width="1" height="1" fill="#78a02a"/>
<rect x="1292" y="227" width="1" height="13" fill="#000000"/>
<rect x="1291" y="229" width="3" height="3" fill="#000000"/>
<rect x="1292" y="230" width="1" height="1" fill="#78a02a"/>
<rect x="1297" y="224" width="1" height="12" fill="#000000"/>
<rect x="1296" y="229" width="3" height="7" fill="#000000"/>
<rect x="1297" y="230" width="1" height="5" fill="#a80000"/>
<rect x="1302" y="230" width="1" height="27" fill="#000000"/>
<rect x="1301" y="235" width="3" height="21" fill="#000000"/>
<rect x="1302" y="236" width="1" height="19" fill="#a80000"/>
<rect x="1307" y="241" width="1" height="19" fill="#000000"/>
<rect x="1306" y="249" width="3" height="6" fill="#000000"/>
<rect x="1307" y="250" width="1" height="4" fill="#78a02a"/>
<rect x="1312" y="240" width="1" height="14" fill="#000000"/>
<rect x="1311" y="240" width="3" height="10" fill="#000000"/>
<rect x="1312" y="241" width="1" height="8" fill="#78a02a"/>
<rect x="1317" y="240" width="1" height="10" fill="#000000"/>
<rect x="1316" y="241" width="3" height="6" fill="#000000"/>
<rect x="1317" y="242" width="1" height="4" fill="#a80000"/>
<rect x="1322" y="242" width="1" height="11" fill="#000000"/>
<rect x="1321" y="243" width="3" height="5" fill="#000000"/>
<rect x="1322" y="244" width="1" height="3" fill="#78a02a"/>
<rect x="1327" y="231" width="1" height="13" fill="#000000"/>
<rect x="1326" y="232" width="3" height="12" fill="#000000"/>
<rect x="1327" y="233" width="1" height="10" fill="#78a02a"/>
<rect x="1332" y="219" width="1" height="14" fill="#000000"/>
<rect x="1331" y="231" width="3" height="2" fill="#000000"/>
<rect x="1337" y="212" width="1" height="25" fill="#000000"/>
<rect x="1336" y="217" width="3" height="15" fill="#000000"/>
<rect x="1337" y="218" width="1" height="13" fill="#78a02a"/>
<rect x="1342" y="205" width="1" height="14" fill="#000000"/>
<rect x="1341" y="207" width="3" height="11" fill="#000000"/>
<rect x="1342" y="208" width="1" height="9" fill="#78a02a"/>
<rect x="1347" y="184" width="1" height="27" fill="#000000"/>
<rect x="1346" y="190" width="3" height="17" fill="#000000"/>
<rect x="1347" y="191" width="1" height="15" fill="#78a02a"/>
<rect x="1352" y="189" width="1" height="13" fill="#000000"/>
<rect x="1351" y="190" width="3" height="9" fill="#000000"/>
<rect x="1352" y="191" width="1" height="7" fill="#a80000"/>
<rect x="1357" y="198" width="1" height="11" fill="#000000"/>
<rect x="1356" y="199" width="3" height="4" fill="#000000"/>
<rect x="1357" y="200" width="1" height="2" fill="#a80000"/>
<rect x="1362" y="191" width="1" height="16" fill="#000000"/>
<rect x="1361" y="195" width="3" height="8" fill="#000000"/>
<rect x="1362" y="196" width="1" height="6" fill="#78a02a"/>
<rect x="1367" y="189" width="1" height="12" fill="#000000"/>
<rect x="1366" y="195" width="3" height="6" fill="#000000"/>
<rect x="1367" y="196" width="1" height="4" fill="#a80000"/>
<rect x="1372" y="183" width="1" height="18" fill="#000000"/>
<rect x="1371" y="183" width="3" height="18" fill="#000000"/>
<rect x="1372" y="184" width="1" height="16" fill="#78a02a"/>
<rect x="1377" y="176" width="1" height="19" fill="#000000"/>
<rect x="1376" y="183" width="3" height="7" fill="#000000"/>
<rect x="1377" y="184" width="1" height="5" fill="#a80000"/>
<rect x="1382" y="187" width="1" height="8" fill="#000000"/>
<rect x="1381" y="187" width="3" height="3" fill="#000000"/>
<rect x="1382" y="188" width="1" height="1" fill="#78a02a"/>
<rect x="1387" y="168" width="1" height="24" fill="#000000"/>
<rect x="1386" y="172" width="3" height="16" fill="#000000"/>
<rect x="1387" y="173" width="1" height="14" fill="#78a02a"/>
<rect x="1392" y="171" width="1" height="11" fill="#000000"/>
<rect x="1391" y="172" width="3" height="2" fill="#000000"/>
<rect x="1397" y="159" width="1" height="15" fill="#000000"/>
<rect x="1396" y="162" width="3" height="12" fill="#000000"/>
<rect x="1397" y="163" width="1" height="10" fill="#78a02a"/>
<rect x="1402" y="162" width="1" height="17" fill="#000000"/>
<rect x="1401" y="162" width="3" height="8" fill="#000000"/>
<rect x="1402" y="163" width="1" height="6" fill="#a80000"/>
<rect x="1407" y="123" width="1" height="48" fill="#000000"/>
<rect x="1406" y="142" width="3" height="26" fill="#000000"/>
<rect x="1407" y="143" width="1" height="24" fill="#78a02a"/>
<rect x="1412" y="140" width="1" height="20" fill="#000000"/>
<rect x="1411" y="142" width="3" height="6" fill="#000000"/>
<rect x="1412" y="143" width="1" height="4" fill="#a80000"/>
<rect x="1417" y="133" width="1" height="26" fill="#000000"/>
<rect x="1416" y="146" width="3" height="2" fill="#000000"/>
<rect x="1422" y="125" width="1" height="25" fill="#000000"/>
<rect x="1421" y="128" width="3" height="18" fill="#000000"/>
<rect x="1422" y="129" width="1" height="16" fill="#78a02a"/>
<rect x="1427" y="119" width="1" height="28" fill="#000000"/>
<rect x="1426" y="128" width="3" height="14" fill="#000000"/>
<rect x="1427" y="129" width="1" height="12" fill="#a80000"/>
<rect x="1432" y="141" width="1" height="14" fill="#000000"/>
<rect x="1431" y="142" width="3" height="4" fill="#000000"/>
<rect x="1432" y="143" width="1" height="2" fill="#a80000"/>
<rect x="1437" y="138" width="1" height="18" fill="#000000"/>
<rect x="1436" y="146" width="3" height="6" fill="#000000"/>
<rect x="1437" y="147" width="1" height="4" fill="#a80000"/>
<rect x="1442" y="143" width="1" height="13" fill="#000000"/>
<rect x="1441" y="151" width="3" height="2" fill="#000000"/>
<rect x="1447" y="150" width="1" height="23" fill="#000000"/>
<rect x="1446" y="151" width="3" height="2" fill="#000000"/>
<rect x="1452" y="138" width="1" height="15" fill="#000000"/>
<rect x="1451" y="143" width="3" height="10" fill="#000000"/>
<rect x="1452" y="144" width="1" height="8" fill="#78a02a"/>
</g>
<rect x="1546" y="136" width="69" height="15" fill="#76a030"/>
<text x="1580.5" y="149" font-size="12" fill="#f0f0f0" text-anchor="middle">107.209</text>
<rect x="1545" y="318" width="71" height="17" fill="#000000"/>
<text x="1580.5" y="332" font-size="12" fill="#ffffff" text-anchor="middle">105.038</text>
<polygon points="1508.5,1 1519.5,1 1514,6.5" fill="#3a3a3a"/>
</svg></body></html>
